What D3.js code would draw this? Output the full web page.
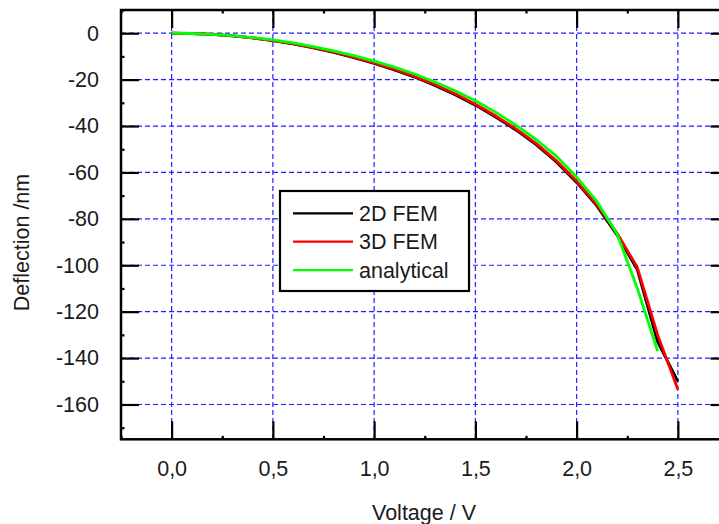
<!DOCTYPE html>
<html>
<head>
<meta charset="utf-8">
<script src="https://cdn.jsdelivr.net/npm/d3@7/dist/d3.min.js"></script>
<style>
  html, body { margin: 0; padding: 0; background: #fff; }
  svg { display: block; }
  text { font-family: "Liberation Sans", Arial, Helvetica, sans-serif; fill: #1a1a1a; }
</style>
</head>
<body>
<svg id="chart" width="719" height="524"></svg>
<script>
// ---- data ----
const voltage = [0.0,0.1,0.2,0.3,0.4,0.5,0.6,0.7,0.8,0.9,1.0,1.1,1.2,1.3,1.4,1.5,1.6,1.7,1.8,1.9,2.0,2.1,2.2,2.3,2.4,2.5];
const fem2d = [0,-0.14,-0.52,-1.15,-2.05,-3.2,-4.6,-6.3,-8.25,-10.5,-13.0,-15.8,-18.9,-22.5,-26.5,-31.0,-36.1,-41.7,-48.0,-55.5,-64.3,-74.4,-87.0,-102,-133,-150];
const fem3d = [0,-0.13,-0.5,-1.12,-2.0,-3.15,-4.5,-6.2,-8.1,-10.3,-12.8,-15.5,-18.6,-22.1,-26.1,-30.6,-35.6,-41.2,-47.5,-55.0,-63.8,-73.8,-86.2,-101,-130,-153.5];
const voltageAnalytical = [0.0,0.1,0.2,0.3,0.4,0.5,0.6,0.7,0.8,0.9,1.0,1.1,1.2,1.3,1.4,1.5,1.6,1.7,1.8,1.9,2.0,2.1,2.2,2.3,2.4];
const analytical = [0,-0.12,-0.47,-1.05,-1.87,-2.9,-4.2,-5.8,-7.6,-9.7,-12.0,-14.6,-17.6,-21.0,-24.8,-29.1,-34.0,-39.6,-45.8,-53.0,-62.0,-72.5,-86.5,-110,-137];

const xTicks = [0, 0.5, 1.0, 1.5, 2.0, 2.5];
const xTickLabels = ["0,0", "0,5", "1,0", "1,5", "2,0", "2,5"];
const xMinor = [-0.25, 0.25, 0.75, 1.25, 1.75, 2.25, 2.75];
const yTicks = [0, -20, -40, -60, -80, -100, -120, -140, -160];
const yMinor = [10, -10, -30, -50, -70, -90, -110, -130, -150, -170];

const seriesNames = ["2D FEM", "3D FEM", "analytical"];
const seriesColors = ["#000000", "#ff0000", "#00ff00"];

// ---- layout ----
const svg = d3.select("#chart");
const L = 121, R = 728.5, T = 10, B = 439.3;
const x = d3.scaleLinear().domain([-0.25, 2.75]).range([L, R]);
const y = d3.scaleLinear().domain([10, -175]).range([T, B]);
const FS = "21.5px";

// grid
const grid = svg.append("g");
grid.selectAll("line.gx").data(xTicks).join("line")
  .attr("x1", d => x(d)).attr("x2", d => x(d)).attr("y1", T).attr("y2", B)
  .attr("stroke", "#2020ff").attr("stroke-width", 1.2).attr("stroke-dasharray", "5,3");
grid.selectAll("line.gy").data(yTicks).join("line")
  .attr("x1", L).attr("x2", R).attr("y1", d => y(d)).attr("y2", d => y(d))
  .attr("stroke", "#2020ff").attr("stroke-width", 1.2).attr("stroke-dasharray", "5,3");

// series
const seriesData = [
  voltage.map((v, i) => [v, fem2d[i]]),
  voltage.map((v, i) => [v, fem3d[i]]),
  voltageAnalytical.map((v, i) => [v, analytical[i]])
];
const line = d3.line().x(d => x(d[0])).y(d => y(d[1]));
seriesData.forEach((s, i) => {
  svg.append("path").datum(s).attr("d", line)
    .attr("fill", "none").attr("stroke", seriesColors[i])
    .attr("stroke-width", 2.8).attr("stroke-linejoin", "round");
});

// axes
function styleAxis(g) {
  g.select(".domain").remove();
  g.selectAll(".tick line").attr("stroke", "#000").attr("stroke-width", 2.2);
  g.selectAll(".tick text").attr("font-size", FS).style("font-family", "'Liberation Sans', Arial, sans-serif").attr("fill", "#1a1a1a");
}
const fmtX = d => xTickLabels[xTicks.indexOf(d)];

svg.append("g").attr("transform", `translate(0,${B})`)
  .call(d3.axisBottom(x).tickValues(xTicks).tickFormat(fmtX).tickSize(-18).tickPadding(21.5))
  .call(styleAxis);
svg.append("g").attr("transform", `translate(0,${B})`)
  .call(d3.axisBottom(x).tickValues(xMinor).tickFormat("").tickSize(-3.5))
  .call(styleAxis);
svg.append("g").attr("transform", `translate(0,${T})`)
  .call(d3.axisTop(x).tickValues(xTicks).tickFormat("").tickSize(-18))
  .call(styleAxis);
svg.append("g").attr("transform", `translate(0,${T})`)
  .call(d3.axisTop(x).tickValues(xMinor).tickFormat("").tickSize(-3.5))
  .call(styleAxis);
svg.append("g").attr("transform", `translate(${L},0)`)
  .call(d3.axisLeft(y).tickValues(yTicks).tickFormat(d => d3.format("d")(d).replace("−", "-")).tickSize(-18).tickPadding(22))
  .call(styleAxis);
svg.append("g").attr("transform", `translate(${L},0)`)
  .call(d3.axisLeft(y).tickValues(yMinor).tickFormat("").tickSize(-3.5))
  .call(styleAxis);
svg.append("g").attr("transform", `translate(${R},0)`)
  .call(d3.axisRight(y).tickValues(yTicks).tickFormat("").tickSize(-18))
  .call(styleAxis);
svg.append("g").attr("transform", `translate(${R},0)`)
  .call(d3.axisRight(y).tickValues(yMinor).tickFormat("").tickSize(-3.5))
  .call(styleAxis);

// frame
svg.append("rect").attr("x", L).attr("y", T).attr("width", R - L).attr("height", B - T)
  .attr("fill", "none").attr("stroke", "#000").attr("stroke-width", 2.5);

// axis titles
svg.append("text").attr("x", 424).attr("y", 520).attr("text-anchor", "middle")
  .attr("font-size", FS).text("Voltage / V");
svg.append("text").attr("transform", "translate(28.5,242.5) rotate(-90)").attr("text-anchor", "middle")
  .attr("font-size", FS).text("Deflection /nm");

// legend
const lg = svg.append("g");
lg.append("rect").attr("x", 280).attr("y", 191).attr("width", 189).attr("height", 100)
  .attr("fill", "#fff").attr("stroke", "#000").attr("stroke-width", 2.2);
seriesNames.forEach((n, i) => {
  const yy = 213.3 + i * 28.4;
  lg.append("line").attr("x1", 293).attr("x2", 353).attr("y1", yy).attr("y2", yy)
    .attr("stroke", seriesColors[i]).attr("stroke-width", 2.2);
  lg.append("text").attr("x", 359).attr("y", yy + 7.7).attr("font-size", FS).text(n);
});
</script>
</body>
</html>
